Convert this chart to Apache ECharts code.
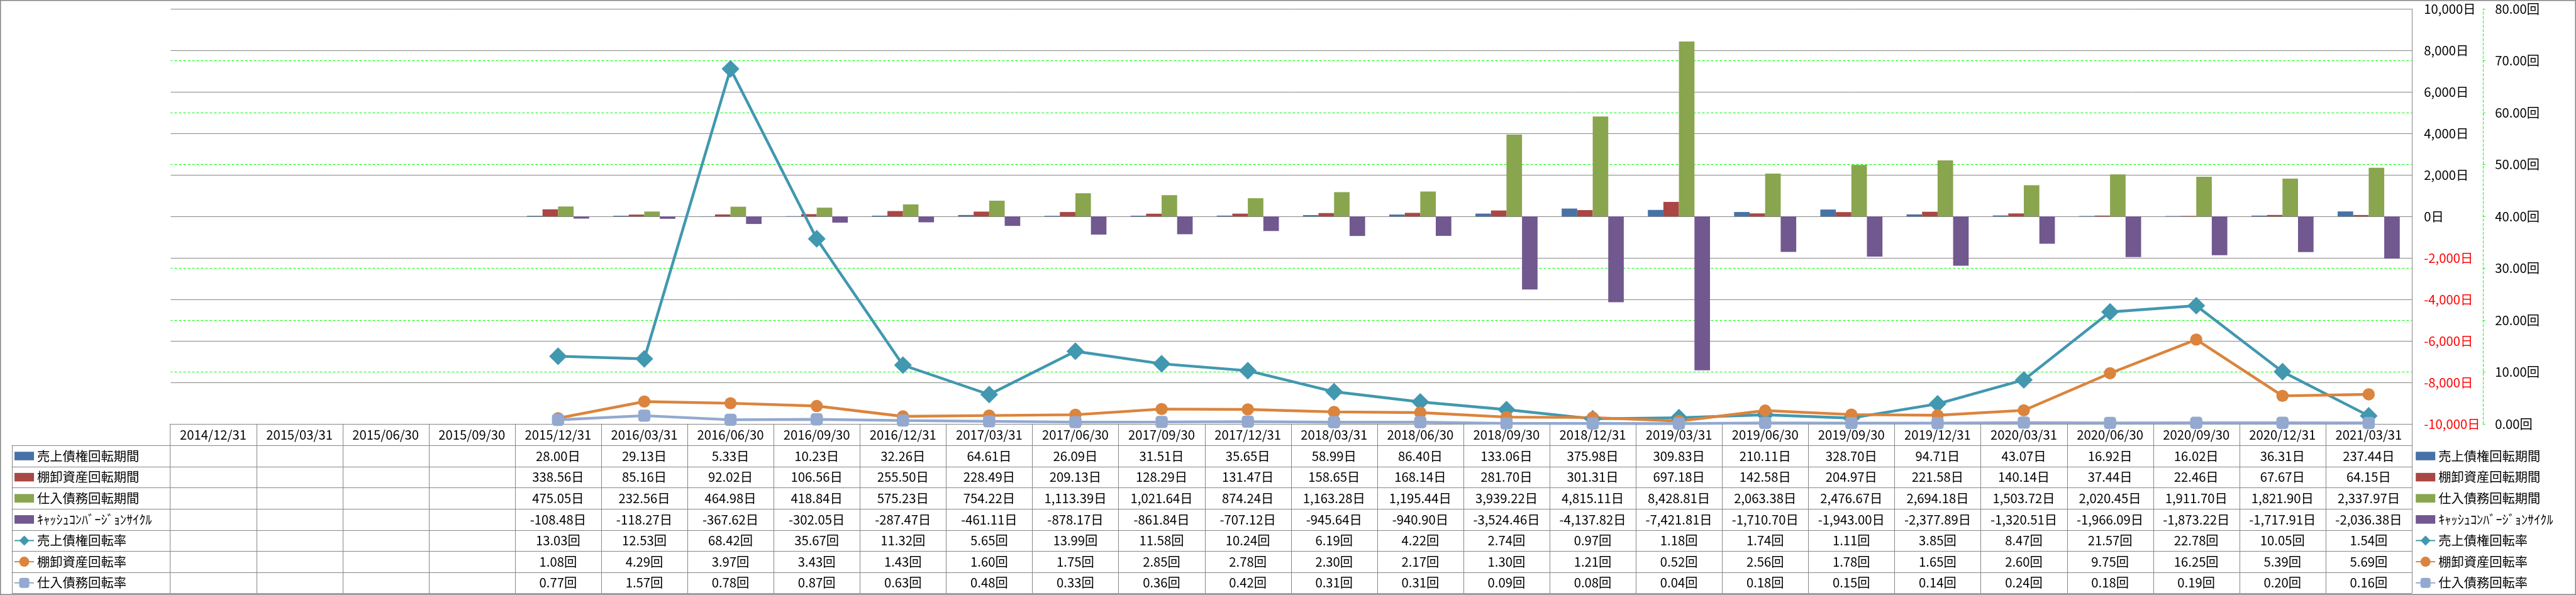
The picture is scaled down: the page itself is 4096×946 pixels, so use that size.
<!DOCTYPE html>
<html><head><meta charset="utf-8">
<script src="https://cdn.jsdelivr.net/npm/echarts@6/dist/echarts.min.js"></script>
<style>html,body{margin:0;padding:0;background:#fff}#c{width:4096px;height:946px}</style>
</head><body><div id="c"></div>
<script>
const categories = ['2014/12/31','2015/03/31','2015/06/30','2015/09/30','2015/12/31','2016/03/31','2016/06/30','2016/09/30','2016/12/31','2017/03/31','2017/06/30','2017/09/30','2017/12/31','2018/03/31','2018/06/30','2018/09/30','2018/12/31','2019/03/31','2019/06/30','2019/09/30','2019/12/31','2020/03/31','2020/06/30','2020/09/30','2020/12/31','2021/03/31'];
const seriesNames = ['売上債権回転期間','棚卸資産回転期間','仕入債務回転期間','ｷｬｯｼｭｺﾝﾊﾞｰｼﾞｮﾝｻｲｸﾙ','売上債権回転率','棚卸資産回転率','仕入債務回転率'];
const arDays = [null,null,null,null,28.00,29.13,5.33,10.23,32.26,64.61,26.09,31.51,35.65,58.99,86.40,133.06,375.98,309.83,210.11,328.70,94.71,43.07,16.92,16.02,36.31,237.44];
const invDays = [null,null,null,null,338.56,85.16,92.02,106.56,255.50,228.49,209.13,128.29,131.47,158.65,168.14,281.70,301.31,697.18,142.58,204.97,221.58,140.14,37.44,22.46,67.67,64.15];
const apDays = [null,null,null,null,475.05,232.56,464.98,418.84,575.23,754.22,1113.39,1021.64,874.24,1163.28,1195.44,3939.22,4815.11,8428.81,2063.38,2476.67,2694.18,1503.72,2020.45,1911.70,1821.90,2337.97];
const cccDays = [null,null,null,null,-108.48,-118.27,-367.62,-302.05,-287.47,-461.11,-878.17,-861.84,-707.12,-945.64,-940.90,-3524.46,-4137.82,-7421.81,-1710.70,-1943.00,-2377.89,-1320.51,-1966.09,-1873.22,-1717.91,-2036.38];
const arTurn = [null,null,null,null,13.03,12.53,68.42,35.67,11.32,5.65,13.99,11.58,10.24,6.19,4.22,2.74,0.97,1.18,1.74,1.11,3.85,8.47,21.57,22.78,10.05,1.54];
const invTurn = [null,null,null,null,1.08,4.29,3.97,3.43,1.43,1.60,1.75,2.85,2.78,2.30,2.17,1.30,1.21,0.52,2.56,1.78,1.65,2.60,9.75,16.25,5.39,5.69];
const apTurn = [null,null,null,null,0.77,1.57,0.78,0.87,0.63,0.48,0.33,0.36,0.42,0.31,0.31,0.09,0.08,0.04,0.18,0.15,0.14,0.24,0.18,0.19,0.20,0.16];
const daysTicks = {min:-10000, max:10000, interval:2000};
const turnTicks = {min:0, max:80, interval:10};

const S = 0.882;
const FONT = '"Noto Sans CJK JP", "Noto Sans", sans-serif';
const FS = 23 * S;
const GRAY = '#868686';
const GREEN = '#00FF00';
const colors = ['#4672A8','#AA4643','#89A54E','#71588F','#4198AF','#DB843D','#93A9CF'];

const plotL = 306.6*S, plotR = 4348*S, plotT = 16*S, plotB = 764*S;
const headerH = 39*S, rowH = 38.1*S;
const tableLeft = 21*S;
const tableBottom = plotB + headerH + rowH*7;

const fmt = (v, u) => v == null ? '' : v.toLocaleString('en-US',{minimumFractionDigits:2, maximumFractionDigits:2}) + u;

const units = ['日','日','日','日','回','回','回'];
const rows = [arDays, invDays, apDays, cccDays, arTurn, invTurn, apTurn];

const barIcon = 'path://M0 0H32V14H0Z';
function legendCfg(left) {
  return {
    orient: 'vertical', left: left, top: plotB + headerH + rowH/2 - 11, padding: 0,
    itemWidth: 31, itemHeight: 20, itemGap: rowH - 22,
    textStyle: {fontSize: FS, fontFamily: FONT, color: '#000', lineHeight: 22},
    data: seriesNames.map((n, i) => i < 4 ? {name: n, icon: barIcon} : {name: n})
  };
}

const barW = 28*S;
const option = {
  animation: false,
  color: colors,
  textStyle: {fontFamily: FONT},
  grid: {show: false, borderWidth: 0, left: plotL, right: 4096 - plotR, top: plotT, bottom: 946 - plotB, containLabel: false},
  legend: [legendCfg(25*S), legendCfg(4354*S)],
  xAxis: {
    type: 'category', data: categories, boundaryGap: true,
    axisLine: {show: true, onZero: false, lineStyle: {color: GRAY, width: 1}},
    axisTick: {show: false},
    axisLabel: {fontSize: FS, fontFamily: FONT, color: '#000', margin: headerH/2, verticalAlign: 'middle', interval: 0},
    splitLine: {show: false},
    splitArea: {show: false}
  },
  yAxis: [
    {
      type: 'value', position: 'right', min: daysTicks.min, max: daysTicks.max, interval: daysTicks.interval, z: 1,
      axisLine: {show: true, onZero: false, lineStyle: {color: GRAY, width: 1}},
      axisTick: {show: false},
      axisLabel: {fontSize: FS, fontFamily: FONT, margin: 22*S,
        color: v => v < 0 ? '#FF0000' : '#000',
        formatter: v => v.toLocaleString('en-US') + '日'},
      splitLine: {show: true, lineStyle: {color: GRAY, width: 1}}
    },
    {
      type: 'value', position: 'right', offset: 128*S, min: turnTicks.min, max: turnTicks.max, interval: turnTicks.interval, z: 0,
      axisLine: {show: true, onZero: false, lineStyle: {color: GREEN, width: 1, type: [4,3]}},
      axisTick: {show: true, inside: false, length: 8*S, lineStyle: {color: GREEN, width: 1, type: [4,3]}},
      axisLabel: {fontSize: FS, fontFamily: FONT, color: '#000', margin: 22*S,
        formatter: v => v.toFixed(2) + '回'},
      splitLine: {show: true, lineStyle: {color: GREEN, width: 1, type: [4,3]}}
    }
  ],
  series: [
    {name: seriesNames[0], type: 'bar', yAxisIndex: 0, data: arDays, barWidth: barW, barGap: '0%'},
    {name: seriesNames[1], type: 'bar', yAxisIndex: 0, data: invDays, barWidth: barW, barGap: '0%'},
    {name: seriesNames[2], type: 'bar', yAxisIndex: 0, data: apDays, barWidth: barW, barGap: '0%'},
    {name: seriesNames[3], type: 'bar', yAxisIndex: 0, data: cccDays, barWidth: barW, barGap: '0%'},
    {name: seriesNames[4], type: 'line', yAxisIndex: 1, data: arTurn, symbol: 'diamond', symbolSize: 32*S,
      lineStyle: {width: 5*S, color: colors[4]}, itemStyle: {color: colors[4]}, clip: false},
    {name: seriesNames[5], type: 'line', yAxisIndex: 1, data: invTurn, symbol: 'circle', symbolSize: 22*S,
      lineStyle: {width: 5*S, color: colors[5]}, itemStyle: {color: colors[5]}, clip: false},
    {name: seriesNames[6], type: 'line', yAxisIndex: 1, data: apTurn, symbol: 'roundRect', symbolSize: 22*S,
      lineStyle: {width: 5*S, color: colors[6]}, itemStyle: {color: colors[6]}, clip: false}
  ]
};

const chart = echarts.init(document.getElementById('c'));
chart.setOption(option);

const graphics = [];
// outer border (four thin rects)
graphics.push({type: 'rect', silent: true, z: 10, shape: {x: 0, y: 0, width: 4096, height: 1.5}, style: {fill: GRAY}});
graphics.push({type: 'rect', silent: true, z: 10, shape: {x: 0, y: 946 - 1.5, width: 4096, height: 1.5}, style: {fill: GRAY}});
graphics.push({type: 'rect', silent: true, z: 10, shape: {x: 0, y: 0, width: 1.5, height: 946}, style: {fill: GRAY}});
graphics.push({type: 'rect', silent: true, z: 10, shape: {x: 4096 - 1.5, y: 0, width: 1.5, height: 946}, style: {fill: GRAY}});
// keep the plot's left edge open (no vertical rule there in the reference)
graphics.push({type: 'rect', silent: true, z: 9, shape: {x: plotL - 3, y: plotT - 2, width: 4, height: plotB - plotT + 1}, style: {fill: '#fff'}});
// table horizontal lines
for (let r = 0; r <= 7; r++) {
  const y = Math.round(plotB + headerH + rowH * r);
  graphics.push({type: 'rect', silent: true, z: 10, shape: {x: tableLeft, y: y, width: plotR - tableLeft, height: 1},
    style: {fill: GRAY}});
}
graphics.push({type: 'rect', silent: true, z: 10,
  shape: {x: Math.round(tableLeft), y: plotB + headerH, width: 1, height: tableBottom - plotB - headerH}, style: {fill: GRAY}});
// table column lines and values
const centers = categories.map(c => chart.convertToPixel({xAxisIndex: 0}, c));
const band = (centers[centers.length - 1] - centers[0]) / (centers.length - 1);
for (let i = 0; i <= centers.length; i++) {
  const x = i < centers.length ? centers[i] - band / 2 : centers[i - 1] + band / 2;
  graphics.push({type: 'rect', silent: true, z: 10,
    shape: {x: Math.round(x), y: plotB, width: 1, height: tableBottom - plotB}, style: {fill: GRAY}});
}
categories.forEach((c, i) => {
  const x = centers[i];
  rows.forEach((arr, r) => {
    const t = fmt(arr[i], units[r]);
    if (!t) return;
    graphics.push({type: 'text', silent: true, z: 10,
      style: {text: t, x: x, y: plotB + headerH + rowH * (r + 0.5), align: 'center', verticalAlign: 'middle',
        fontSize: FS, fontFamily: FONT, fill: '#000'}});
  });
});
chart.setOption({graphic: graphics});
</script>
</body></html>
